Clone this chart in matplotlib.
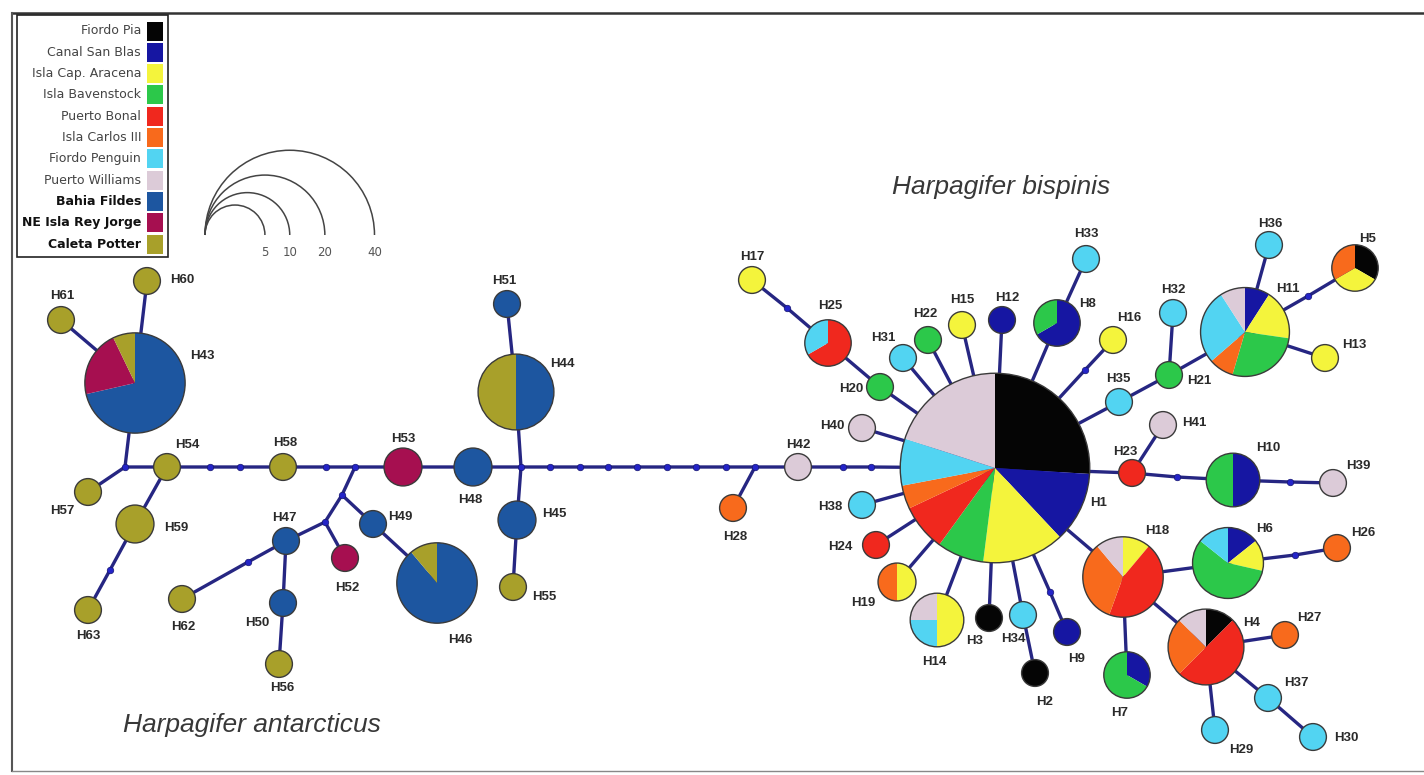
import numpy as np
import matplotlib
matplotlib.use("Agg")
import matplotlib.pyplot as plt
from matplotlib.patches import Wedge, Circle, Arc, Rectangle

# ---------------------------------------------------------------- data
populations = ["Fiordo Pia", "Canal San Blas", "Isla Cap. Aracena", "Isla Bavenstock",
               "Puerto Bonal", "Isla Carlos III", "Fiordo Penguin", "Puerto Williams",
               "Bahia Fildes", "NE Isla Rey Jorge", "Caleta Potter"]
pop_colors = ["#050505", "#1616a2", "#f4f43c", "#2cc84a", "#f0281e", "#f86a1c",
              "#52d4f2", "#dccbd8", "#1d56a0", "#a60f50", "#a8a02a"]
bold_pops = ["Bahia Fildes", "NE Isla Rey Jorge", "Caleta Potter"]

# haplotype counts per sampling locality
fiordo_pia = {"H1": 13, "H3": 1, "H2": 1, "H5": 1, "H4": 1}
canal_san_blas = {"H1": 6, "H12": 1, "H8": 2, "H11": 1, "H10": 2, "H6": 1, "H7": 1, "H9": 1}
isla_cap_aracena = {"H1": 7, "H17": 1, "H15": 1, "H16": 1, "H11": 2, "H13": 1, "H5": 1,
                    "H18": 1, "H6": 1, "H19": 1, "H14": 2}
isla_bavenstock = {"H1": 4, "H20": 1, "H22": 1, "H8": 1, "H21": 1, "H11": 3, "H10": 2,
                   "H6": 4, "H7": 2}
puerto_bonal = {"H1": 4, "H25": 2, "H23": 1, "H18": 4, "H4": 4, "H24": 1}
isla_carlos_iii = {"H1": 2, "H28": 1, "H11": 1, "H5": 1, "H18": 3, "H26": 1, "H4": 2,
                   "H27": 1, "H19": 1}
fiordo_penguin = {"H1": 4, "H25": 1, "H31": 1, "H33": 1, "H35": 1, "H32": 1, "H36": 1,
                  "H11": 3, "H6": 1, "H37": 1, "H30": 1, "H29": 1, "H38": 1, "H14": 1,
                  "H34": 1}
puerto_williams = {"H1": 10, "H40": 1, "H42": 1, "H11": 1, "H41": 1, "H39": 1, "H18": 1,
                   "H4": 1, "H14": 1}
bahia_fildes = {"H43": 10, "H44": 4, "H51": 1, "H48": 2, "H45": 2, "H46": 8, "H49": 1,
                "H47": 1, "H50": 1}
ne_isla_rey_jorge = {"H43": 3, "H53": 2, "H52": 1}
caleta_potter = {"H43": 1, "H60": 1, "H61": 1, "H57": 1, "H54": 1, "H59": 2, "H63": 1,
                 "H58": 1, "H62": 1, "H56": 1, "H44": 4, "H46": 1, "H55": 1}

pop_counts = [fiordo_pia, canal_san_blas, isla_cap_aracena, isla_bavenstock, puerto_bonal,
              isla_carlos_iii, fiordo_penguin, puerto_williams, bahia_fildes,
              ne_isla_rey_jorge, caleta_potter]

scale_sizes = [5, 10, 20, 40]
species_names = ["Harpagifer bispinis", "Harpagifer antarcticus"]

# ---------------------------------------------------------------- layout (pixel space)
node_xy = {
    "H43": (135, 383), "H60": (147, 281), "H61": (61, 320), "H57": (88, 492),
    "H54": (167, 467), "H59": (135, 524), "H63": (88, 610), "H58": (283, 467),
    "H47": (286, 541), "H62": (182, 599), "H50": (283, 603), "H56": (279, 664),
    "H52": (345, 558), "H49": (373, 524), "H46": (437, 583), "H53": (403, 467),
    "H48": (473, 467), "H44": (516, 392), "H51": (507, 304), "H45": (517, 520),
    "H55": (513, 587), "H28": (733, 508), "H42": (798, 467),
    "H1": (995, 468), "H40": (862, 428), "H20": (880, 387), "H25": (828, 343),
    "H17": (752, 280), "H31": (903, 358), "H22": (928, 340), "H15": (962, 325),
    "H12": (1002, 320), "H8": (1057, 323), "H33": (1086, 259), "H16": (1113, 340),
    "H35": (1119, 402), "H21": (1169, 375), "H32": (1173, 313), "H11": (1245, 332),
    "H36": (1269, 245), "H13": (1325, 358), "H5": (1355, 268), "H23": (1132, 473),
    "H41": (1163, 425), "H10": (1233, 480), "H39": (1333, 483), "H18": (1123, 577),
    "H6": (1228, 563), "H26": (1337, 548), "H4": (1206, 647), "H27": (1285, 635),
    "H37": (1268, 698), "H30": (1313, 737), "H29": (1215, 730), "H7": (1127, 675),
    "H38": (862, 505), "H24": (876, 545), "H19": (897, 582), "H14": (937, 620),
    "H3": (989, 618), "H34": (1023, 615), "H2": (1035, 673), "H9": (1067, 632),
}
median_xy = {
    "a1": (125, 467), "a2": (110, 570), "a3": (210, 467), "a4": (240, 467),
    "a5": (326, 467), "a6": (355, 467), "a7": (342, 495), "a8": (325, 522),
    "a9": (248, 562), "a10": (521, 467),
    "b1": (550, 467), "b2": (580, 467), "b3": (608, 467), "b4": (637, 467),
    "b5": (667, 467), "b6": (696, 467), "b7": (726, 467), "b8": (755, 467),
    "c1": (843, 467), "c2": (871, 467),
    "d1": (787, 308), "d2": (1085, 370), "d3": (1308, 296), "d4": (1177, 477),
    "d5": (1290, 482), "d6": (1295, 555), "d7": (1050, 592),
}
paths = [
    ["H60", "H43"], ["H61", "H43"], ["H43", "a1"], ["a1", "H57"],
    ["a1", "H54", "a3", "a4", "H58", "a5", "a6", "H53", "H48", "a10",
     "b1", "b2", "b3", "b4", "b5", "b6", "b7", "b8", "H42", "c1", "c2", "H1"],
    ["H54", "H59", "a2", "H63"],
    ["a6", "a7", "a8", "H47"], ["a7", "H49", "H46"], ["a8", "H52"],
    ["H47", "a9", "H62"], ["H47", "H50", "H56"],
    ["H51", "H44", "a10", "H45", "H55"], ["b8", "H28"],
    ["H1", "H40"], ["H1", "H20", "H25", "d1", "H17"], ["H1", "H31"], ["H1", "H22"],
    ["H1", "H15"], ["H1", "H12"], ["H1", "H8", "H33"], ["H1", "d2", "H16"],
    ["H1", "H35", "H21", "H11"], ["H21", "H32"], ["H11", "H36"], ["H11", "H13"],
    ["H11", "d3", "H5"], ["H1", "H23", "d4", "H10", "d5", "H39"], ["H23", "H41"],
    ["H1", "H18", "H6", "d6", "H26"], ["H18", "H4", "H27"], ["H4", "H37", "H30"],
    ["H4", "H29"], ["H18", "H7"],
    ["H1", "H38"], ["H1", "H24"], ["H1", "H19"], ["H1", "H14"], ["H1", "H3"],
    ["H1", "H34", "H2"], ["H1", "d7", "H9"],
]
label_xy = {
    "H60": (182, 280), "H61": (62, 296), "H43": (202, 356), "H54": (187, 445),
    "H58": (285, 443), "H53": (403, 439), "H57": (62, 511), "H59": (176, 528),
    "H47": (284, 518), "H49": (400, 517), "H48": (470, 500), "H45": (554, 514),
    "H44": (562, 364), "H51": (504, 281), "H52": (347, 588), "H46": (460, 640),
    "H55": (544, 597), "H50": (257, 623), "H56": (282, 688), "H62": (183, 627),
    "H63": (88, 636), "H28": (735, 537), "H42": (798, 445), "H17": (752, 257),
    "H25": (830, 306), "H31": (883, 338), "H22": (925, 314), "H15": (962, 300),
    "H12": (1007, 298), "H20": (851, 389), "H40": (832, 426), "H33": (1086, 234),
    "H8": (1088, 304), "H16": (1129, 318), "H35": (1118, 379), "H32": (1173, 290),
    "H21": (1199, 381), "H11": (1288, 289), "H36": (1270, 224), "H5": (1368, 239),
    "H13": (1354, 345), "H41": (1194, 423), "H23": (1125, 452), "H10": (1268, 448),
    "H39": (1358, 466), "H1": (1099, 503), "H18": (1157, 531), "H6": (1265, 529),
    "H26": (1363, 533), "H4": (1252, 623), "H27": (1309, 618), "H37": (1296, 683),
    "H30": (1346, 738), "H29": (1241, 750), "H7": (1120, 713), "H38": (830, 507),
    "H24": (840, 547), "H19": (863, 603), "H14": (934, 662), "H3": (975, 641),
    "H34": (1013, 639), "H2": (1045, 702), "H9": (1077, 659),
}

K = 13.4  # circle radius (px) per sqrt(individual)

EDGE_COLOR = "#262682"
DOT_COLOR = "#2424c8"
LABEL_FONT = "Liberation Sans"

fig = plt.figure(figsize=(14.24, 7.75), dpi=100)
ax = fig.add_axes([0, 0, 1, 1])
ax.set_xlim(0, 1424)
ax.set_ylim(775, 0)
ax.set_aspect("equal")
ax.axis("off")


def pos(name):
    return node_xy[name] if name in node_xy else median_xy[name]


# connecting lines
for path in paths:
    xs = [pos(p)[0] for p in path]
    ys = [pos(p)[1] for p in path]
    ax.plot(xs, ys, color=EDGE_COLOR, lw=2.4, solid_capstyle="round", zorder=1)

# mutational steps / median vectors
mx = [v[0] for v in median_xy.values()]
my = [v[1] for v in median_xy.values()]
ax.scatter(mx, my, s=22, color=DOT_COLOR, edgecolors="#161670", linewidths=0.5, zorder=2)

# haplotype pies: clockwise from 12 o'clock, in locality order
for hap, (x, y) in node_xy.items():
    comps = [(i, pc.get(hap, 0)) for i, pc in enumerate(pop_counts) if pc.get(hap, 0) > 0]
    total = sum(c for _, c in comps)
    r = K * np.sqrt(total)
    start = 0.0
    for i, c in comps:
        span = 360.0 * c / total
        ax.add_patch(Wedge((x, y), r, -90 + start, -90 + start + span,
                           facecolor=pop_colors[i], edgecolor="none", zorder=3))
        start += span
    ax.add_patch(Circle((x, y), r, facecolor="none", edgecolor="#3a3a3a", lw=1.0, zorder=4))
    lx, ly = label_xy[hap]
    ax.text(lx, ly, hap, fontsize=9.5, fontweight="bold", family=LABEL_FONT,
            color="#2a2a2a", ha="center", va="center", zorder=5)

# species names
ax.text(1001, 187, species_names[0], fontsize=19, style="italic", family=LABEL_FONT,
        color="#383838", ha="center", va="center")
ax.text(252, 725, species_names[1], fontsize=19, style="italic", family=LABEL_FONT,
        color="#383838", ha="center", va="center")

# locality key
ax.add_patch(Rectangle((17, 15), 151, 242, facecolor="white", edgecolor="#222222",
                       lw=1.2, zorder=5))
row_h = 21.3
for k, (name, col) in enumerate(zip(populations, pop_colors)):
    cy = 31 + k * row_h
    ax.add_patch(Rectangle((147, cy - 9.5), 16, 19, facecolor=col, edgecolor="none", zorder=6))
    bold = name in bold_pops
    ax.text(141, cy, name, fontsize=9.0, ha="right", va="center",
            fontweight="bold" if bold else "normal",
            color="#111111" if bold else "#444444", family="DejaVu Sans", zorder=7)

# circle size scale
x0, y0 = 205, 235
for n in scale_sizes:
    r = K * np.sqrt(n)
    ax.add_patch(Arc((x0 + r, y0), 2 * r, 2 * r, theta1=180, theta2=360,
                     color="#444444", lw=1.1))
    ax.text(x0 + 2 * r, y0 + 17, str(n), fontsize=8.5, ha="center", va="center",
            color="#555555", family="DejaVu Sans")

# outer frame
ax.plot([12, 1424], [13, 13], color="#333333", lw=1.8)
ax.plot([12, 12], [13, 771], color="#555555", lw=1.5)
ax.plot([12, 1424], [771, 771], color="#888888", lw=1.0)

fig.savefig("out.png", dpi=100, facecolor="white")
